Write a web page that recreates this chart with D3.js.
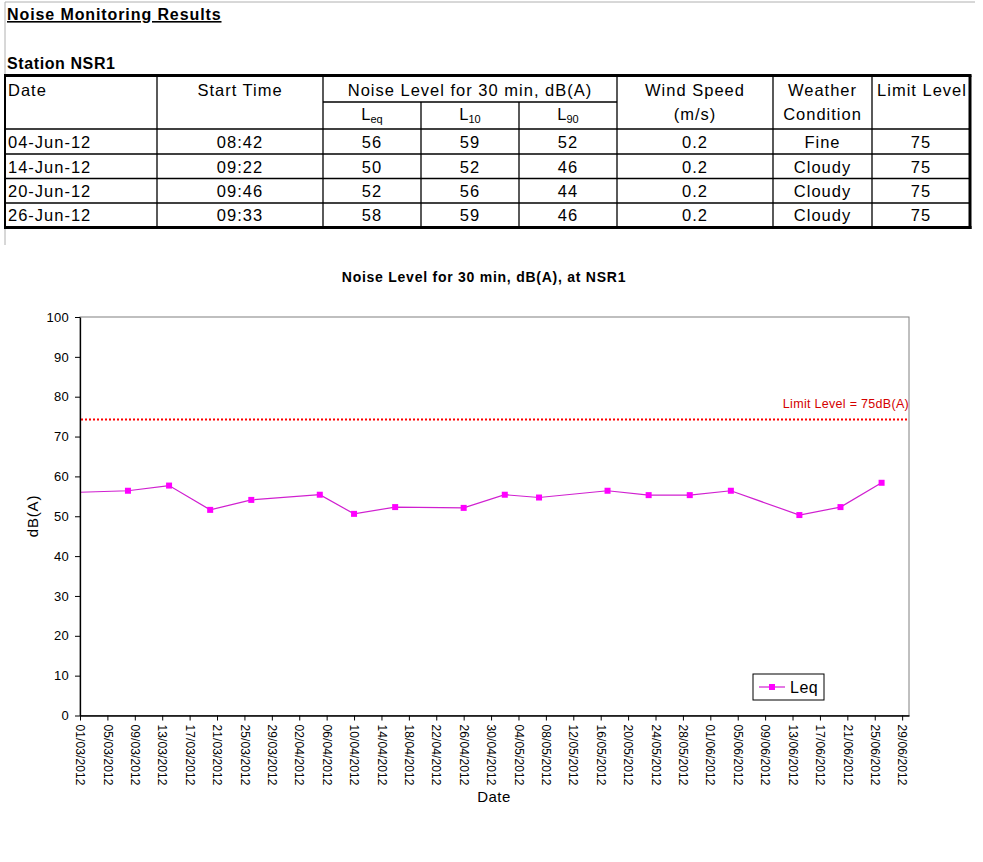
<!DOCTYPE html>
<html>
<head>
<meta charset="utf-8">
<script src="https://cdn.jsdelivr.net/npm/d3@7"></script>
<style>
  body { margin: 0; background: #fff; }
  svg { display: block; }
  text { font-family: "Liberation Sans", Arial, sans-serif; fill: #000; }
</style>
</head>
<body>
<div id="chart"></div>
<script>
// ---- table data ----
const tableDates = ["04-Jun-12", "14-Jun-12", "20-Jun-12", "26-Jun-12"];
const startTimes = ["08:42", "09:22", "09:46", "09:33"];
const leqTable = [56, 50, 52, 58];
const l10Table = [59, 52, 56, 59];
const l90Table = [52, 46, 44, 46];
const windSpeed = ["0.2", "0.2", "0.2", "0.2"];
const weather = ["Fine", "Cloudy", "Cloudy", "Cloudy"];
const limitTable = [75, 75, 75, 75];

// ---- chart data (Leq readings, first one lies before the axis start) ----
const leqDates = ["24/02/2012", "08/03/2012", "14/03/2012", "20/03/2012", "26/03/2012",
  "05/04/2012", "10/04/2012", "16/04/2012", "26/04/2012", "02/05/2012", "07/05/2012",
  "17/05/2012", "23/05/2012", "29/05/2012", "04/06/2012", "14/06/2012", "20/06/2012",
  "26/06/2012"];
const leqValues = [55.7, 56.4, 57.7, 51.6, 54.1, 55.4, 50.6, 52.3, 52.1, 55.4, 54.7,
  56.4, 55.3, 55.3, 56.4, 50.3, 52.3, 58.4];
const limitLevel = 74.3; // where the dotted limit line sits in the picture
const limitLabel = "Limit Level = 75dB(A)";
const xTickLabels = ["01/03/2012", "05/03/2012", "09/03/2012", "13/03/2012", "17/03/2012",
  "21/03/2012", "25/03/2012", "29/03/2012", "02/04/2012", "06/04/2012", "10/04/2012",
  "14/04/2012", "18/04/2012", "22/04/2012", "26/04/2012", "30/04/2012", "04/05/2012",
  "08/05/2012", "12/05/2012", "16/05/2012", "20/05/2012", "24/05/2012", "28/05/2012",
  "01/06/2012", "05/06/2012", "09/06/2012", "13/06/2012", "17/06/2012", "21/06/2012",
  "25/06/2012", "29/06/2012"];
const yTicks = [0, 10, 20, 30, 40, 50, 60, 70, 80, 90, 100];
const xStart = "01/03/2012", xEnd = "30/06/2012";

const parseDate = d3.timeParse("%d/%m/%Y");
const fmtDate = d3.timeFormat("%d/%m/%Y");

const svg = d3.select("#chart").append("svg")
    .attr("width", 983)
    .attr("height", 862);

// page frame lines
svg.append("line").attr("x1", 5).attr("x2", 975).attr("y1", 2).attr("y2", 2)
    .attr("stroke", "#b0b0b0");
svg.append("line").attr("x1", 5).attr("x2", 5).attr("y1", 2).attr("y2", 245)
    .attr("stroke", "#b0b0b0");

// headings
svg.append("text")
    .attr("x", 7).attr("y", 20)
    .attr("font-size", 16).attr("font-weight", "bold")
    .attr("letter-spacing", 0.9)
    .attr("text-decoration", "underline")
    .text("Noise Monitoring Results");

svg.append("text")
    .attr("x", 7).attr("y", 69)
    .attr("font-size", 16).attr("font-weight", "bold")
    .attr("letter-spacing", 0.6)
    .text("Station NSR1");

// ---- table ----
const colX = [5, 157, 323, 421, 519, 617, 773, 872, 970];
const rowY = [77, 102, 129, 154, 178.5, 203, 227];
const table = svg.append("g").attr("class", "table");

const hline = (x1, x2, yy, w) => table.append("line")
    .attr("x1", x1).attr("x2", x2).attr("y1", yy).attr("y2", yy)
    .attr("stroke", "#000").attr("stroke-width", w || 1.3);
const vline = (xx, y1, y2, w) => table.append("line")
    .attr("x1", xx).attr("x2", xx).attr("y1", y1).attr("y2", y2)
    .attr("stroke", "#000").attr("stroke-width", w || 1.3);

hline(colX[2], colX[5], rowY[1]);
[2, 3, 4, 5].forEach(i => hline(colX[0], colX[8], rowY[i]));
colX.slice(1, 8).forEach((cx, i) => {
  const j = i + 1;
  const top = (j === 3 || j === 4) ? rowY[1] : rowY[0];
  vline(cx, top, rowY[6]);
});
// thick outer frame
hline(colX[0] - 1, colX[8] + 1.5, rowY[0] - 1.5, 3);
hline(colX[0] - 1, colX[8] + 1.5, rowY[6] + 0.5, 3);
vline(colX[0], rowY[0] - 1.5, rowY[6] + 0.5, 2);
vline(colX[8], rowY[0] - 1.5, rowY[6] + 2, 3);

const cellText = (txt, cx, cy, anchor) => table.append("text")
    .attr("x", cx).attr("y", cy).attr("dy", "0.36em")
    .attr("text-anchor", anchor || "middle")
    .attr("font-size", 16.5).attr("letter-spacing", 1)
    .text(txt);
const mid = i => (colX[i] + colX[i + 1]) / 2;

cellText("Date", 8, 90, "start");
cellText("Start Time", mid(1), 90);
cellText("Noise Level for 30 min, dB(A)", (colX[2] + colX[5]) / 2, 90);
cellText("Wind Speed", mid(5), 90);
cellText("(m/s)", mid(5), 114);
cellText("Weather", mid(6), 90);
cellText("Condition", mid(6), 114);
cellText("Limit Level", mid(7) + 1, 90);

[["L", "eq"], ["L", "10"], ["L", "90"]].forEach((s, k) => {
  const t = table.append("text")
      .attr("x", mid(2 + k)).attr("y", 120)
      .attr("text-anchor", "middle")
      .attr("font-size", 16.5);
  t.append("tspan").text(s[0]);
  t.append("tspan").attr("font-size", 11).attr("dy", 3).text(s[1]);
});

const columns = [tableDates, startTimes, leqTable, l10Table, l90Table, windSpeed, weather, limitTable];
tableDates.forEach((_, r) => {
  const cy = (rowY[2 + r] + rowY[3 + r]) / 2 + 0.5;
  columns.forEach((col, c) => {
    if (c === 0) cellText(col[r], 8, cy, "start");
    else cellText(col[r], mid(c), cy);
  });
});

// ---- chart ----
const plot = {left: 80, right: 909, top: 317, bottom: 715.5};

const x = d3.scaleTime()
    .domain([parseDate(xStart), parseDate(xEnd)])
    .range([plot.left, plot.right]);

const y = d3.scaleLinear()
    .domain([0, 100])
    .range([plot.bottom, plot.top]);

svg.append("text")
    .attr("x", 484).attr("y", 282)
    .attr("text-anchor", "middle")
    .attr("font-size", 14).attr("font-weight", "bold")
    .attr("letter-spacing", 0.75)
    .text("Noise Level for 30 min, dB(A), at NSR1");

// plot frame (grey top and right)
svg.append("rect")
    .attr("x", plot.left).attr("y", plot.top)
    .attr("width", plot.right - plot.left).attr("height", plot.bottom - plot.top)
    .attr("fill", "none").attr("stroke", "#808080");

svg.append("clipPath").attr("id", "clip")
  .append("rect")
    .attr("x", plot.left).attr("y", plot.top)
    .attr("width", plot.right - plot.left).attr("height", plot.bottom - plot.top);

// limit line
svg.append("line")
    .attr("x1", plot.left + 1).attr("x2", plot.right)
    .attr("y1", y(limitLevel)).attr("y2", y(limitLevel))
    .attr("stroke", "#ff0000").attr("stroke-width", 2)
    .attr("stroke-dasharray", "2,2");

svg.append("text")
    .attr("x", plot.right).attr("y", 408)
    .attr("text-anchor", "end")
    .attr("font-size", 12.5).attr("letter-spacing", 0.3)
    .style("fill", "#d40000")
    .text(limitLabel);

const series = leqDates.map((d, i) => ({date: parseDate(d), value: leqValues[i]}));

const line = d3.line()
    .x(d => x(d.date))
    .y(d => y(d.value));

const marks = svg.append("g").attr("clip-path", "url(#clip)");

marks.append("path")
    .datum(series)
    .attr("fill", "none")
    .attr("stroke", "#d020d0")
    .attr("stroke-width", 1.2)
    .attr("d", line);

marks.selectAll("rect.pt")
  .data(series.filter(d => d.date >= x.domain()[0]))
  .enter().append("rect")
    .attr("class", "pt")
    .attr("x", d => x(d.date) - 3)
    .attr("y", d => y(d.value) - 3)
    .attr("width", 6)
    .attr("height", 6)
    .attr("fill", "#ff00ff");

// y axis
const yAxis = svg.append("g")
    .attr("transform", `translate(${plot.left},0)`)
    .call(d3.axisLeft(y).tickValues(yTicks).tickSize(5).tickSizeOuter(0).tickPadding(6));
yAxis.select(".domain").attr("stroke", "#000").attr("stroke-width", 1.3);
yAxis.selectAll("text")
    .attr("font-size", 13).attr("letter-spacing", 0.3)
    .attr("font-family", "Liberation Sans, Arial, sans-serif");

svg.append("text")
    .attr("transform", "translate(38,516) rotate(-90)")
    .attr("text-anchor", "middle")
    .attr("font-size", 15).attr("letter-spacing", 0.8)
    .text("dB(A)");

// x axis
const xAxis = svg.append("g")
    .attr("transform", `translate(0,${plot.bottom})`)
    .call(d3.axisBottom(x)
      .tickValues(xTickLabels.map(parseDate))
      .tickFormat(fmtDate)
      .tickSize(5)
      .tickSizeOuter(0));
xAxis.select(".domain").attr("stroke", "#000").attr("stroke-width", 1.3);
xAxis.selectAll("text")
    .attr("transform", "rotate(90)")
    .attr("x", 9).attr("y", 0).attr("dy", "0.36em")
    .attr("text-anchor", "start")
    .attr("font-size", 12).attr("letter-spacing", 0.1)
    .attr("font-family", "Liberation Sans, Arial, sans-serif");

svg.append("text")
    .attr("x", 494).attr("y", 802)
    .attr("text-anchor", "middle")
    .attr("font-size", 15).attr("letter-spacing", 0.5)
    .text("Date");

// legend
const legend = svg.append("g").attr("transform", "translate(753,674)");
legend.append("rect")
    .attr("width", 71).attr("height", 26)
    .attr("fill", "#fff").attr("stroke", "#000");
legend.append("line")
    .attr("x1", 6).attr("x2", 32).attr("y1", 13).attr("y2", 13)
    .attr("stroke", "#d020d0").attr("stroke-width", 1.2);
legend.append("rect")
    .attr("x", 16).attr("y", 10).attr("width", 6).attr("height", 6)
    .attr("fill", "#ff00ff");
legend.append("text")
    .attr("x", 37).attr("y", 13).attr("dy", "0.36em")
    .attr("font-size", 16).attr("letter-spacing", 0.5)
    .text("Leq");
</script>
</body>
</html>
